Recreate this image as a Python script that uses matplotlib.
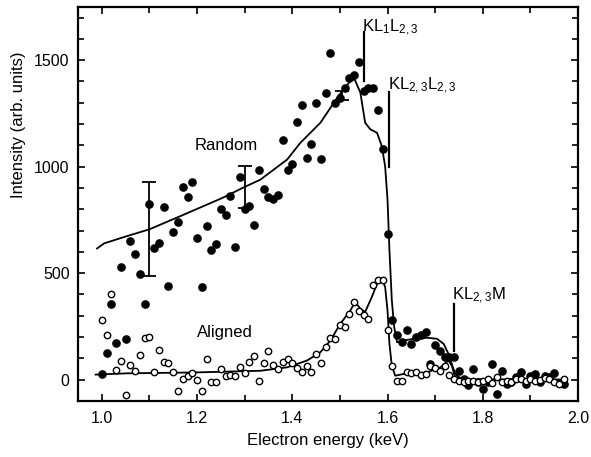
import numpy as np
import matplotlib
matplotlib.use('Agg')
import matplotlib.pyplot as plt
from matplotlib.ticker import MultipleLocator

plt.rcParams['font.family'] = ['Liberation Sans', 'DejaVu Sans']
plt.rcParams['mathtext.default'] = 'regular'

# measured points (energy in keV, intensity in arb. units)
energy = np.round(np.arange(1.00, 1.975, 0.01), 2)

random_pts = [25, 126, 354, 170, 530, 189, 651, 590, 495, 354,
              825, 616, 643, 810, 439, 695, 739, 904, 857, 926,
              667, 435, 723, 608, 637, 802, 774, 860, 624, 951,
              800, 816, 726, 982, 895, 857, 849, 868, 1124, 986,
              1014, 1210, 1288, 1040, 1108, 1297, 1038, 1344, 1533, 1300,
              1324, 1371, 1415, 1429, 1492, 1355, 1368, 1371, 1264, 1085,
              684, 278, 211, 176, 234, 168, 200, 212, 223, 74,
              165, 137, 108, 108, 105, 39, 3, -24, 50, -13,
              -44, -13, 74, -67, 42, -20, -13, 11, 34, -20,
              19, 27, -13, 19, 11, 30, -17, -19]

aligned_pts = [278, 211, 400, 47, 90, -72, 69, 42, 117, 195,
               200, 34, 141, 85, 79, 34, -55, 3, 16, 30,
               -1, -55, 98, -13, -13, 50, 19, 24, 17, 61,
               30, 82, 110, -5, 77, 137, 71, 50, 85, 98,
               79, 53, 38, 63, 38, 121, 77, 152, 195, 189,
               255, 247, 307, 365, 321, 302, 286, 443, 470, 470,
               231, 66, -8, -5, 34, 30, 34, 24, 27, 63,
               53, 42, 63, 24, 3, -5, -13, -8, -5, -13,
               -5, 3, -17, 14, -13, -5, -13, 3, 3, -5,
               3, -5, -2, 8, 3, -13, -20, 1]

# simulated curves
random_fit_x = [0.99, 1.005, 1.05, 1.10, 1.162, 1.252, 1.302, 1.333, 1.389, 1.417,
                1.459, 1.497, 1.522, 1.531, 1.543, 1.553, 1.564, 1.578, 1.588, 1.595,
                1.600, 1.604, 1.609, 1.614, 1.620, 1.634, 1.655, 1.683, 1.704, 1.718,
                1.728, 1.735, 1.742, 1.760, 1.80, 1.85, 1.90, 1.97]
random_fit_y = [616, 640, 672, 706, 765, 852, 907, 939, 1033, 1112,
                1206, 1332, 1402, 1410, 1347, 1206, 1175, 1159, 1096, 1001,
                844, 608, 373, 247, 176, 184, 192, 197, 192, 168,
                121, 74, 27, -5, 2, 0, 3, 0]

aligned_fit_x = [0.987, 1.054, 1.193, 1.333, 1.389, 1.431, 1.459, 1.480, 1.501, 1.522,
                 1.532, 1.543, 1.553, 1.567, 1.581, 1.588, 1.595, 1.600, 1.604, 1.609,
                 1.616, 1.634, 1.683, 1.711, 1.728, 1.735, 1.742, 1.76, 1.97]
aligned_fit_y = [24, 30, 34, 42, 58, 90, 129, 184, 263, 325,
                 365, 333, 318, 388, 467, 475, 435, 325, 168, 66,
                 19, 27, 34, 58, 90, 66, 11, 0, 0]

# error bars
err_x = [1.10, 1.30, 1.505]
err_y = [706, 905, 1335]
err_size = [220, 100, 20]

# transition markers: label, energy, line bottom, line top, label y
marks = [(r'KL$_1$L$_{2,3}$', 1.551, 1402, 1633, 1605),
         (r'KL$_{2,3}$L$_{2,3}$', 1.604, 1000, 1350, 1330),
         (r'KL$_{2,3}$M', 1.740, 137, 357, 345)]

fig = plt.figure(figsize=(5.91, 4.57), dpi=100)
ax = fig.add_axes([0.132, 0.1225, 0.846, 0.8625])

ax.plot(random_fit_x, random_fit_y, color='black', lw=1.3)
ax.plot(aligned_fit_x, aligned_fit_y, color='black', lw=1.3)
ax.plot(energy, random_pts, 'o', color='black', ms=5.2)
ax.plot(energy, aligned_pts, 'o', mfc='white', mec='black', ms=4.6, mew=1.0)
ax.errorbar(err_x, err_y, yerr=err_size, fmt='none', ecolor='black',
            elinewidth=1.3, capsize=5, capthick=1.3)

for label, xm, y0, y1, yt in marks:
    ax.plot([xm, xm], [y0, y1], color='black', lw=1.6)
    ax.text(xm - 0.004, yt, label, fontsize=12, ha='left', va='bottom')

ax.text(1.261, 1100, 'Random', fontsize=12, ha='center', va='center')
ax.text(1.258, 223, 'Aligned', fontsize=12, ha='center', va='center')

ax.set_xlim(0.95, 2.0)
ax.set_ylim(-100, 1750)
ax.xaxis.set_major_locator(MultipleLocator(0.2))
ax.xaxis.set_minor_locator(MultipleLocator(0.1))
ax.yaxis.set_major_locator(MultipleLocator(500))
ax.yaxis.set_minor_locator(MultipleLocator(100))
ax.set_xticks([1.0, 1.2, 1.4, 1.6, 1.8, 2.0])
ax.set_xticklabels(['1.0', '1.2', '1.4', '1.6', '1.8', '2.0'])
ax.set_yticks([0, 500, 1000, 1500])
ax.tick_params(which='both', direction='in', top=True, right=True,
               labelsize=11.5, width=1.2)
ax.tick_params(which='major', length=5)
ax.tick_params(which='minor', length=4)
ax.tick_params(axis='x', pad=7)
ax.tick_params(axis='y', pad=6)
for sp in ax.spines.values():
    sp.set_linewidth(1.6)

ax.set_xlabel('Electron energy (keV)', fontsize=12, labelpad=5)
ax.set_ylabel('Intensity (arb. units)', fontsize=12)
ax.yaxis.set_label_coords(-0.105, 0.70)

fig.savefig('out.png', dpi=100)
